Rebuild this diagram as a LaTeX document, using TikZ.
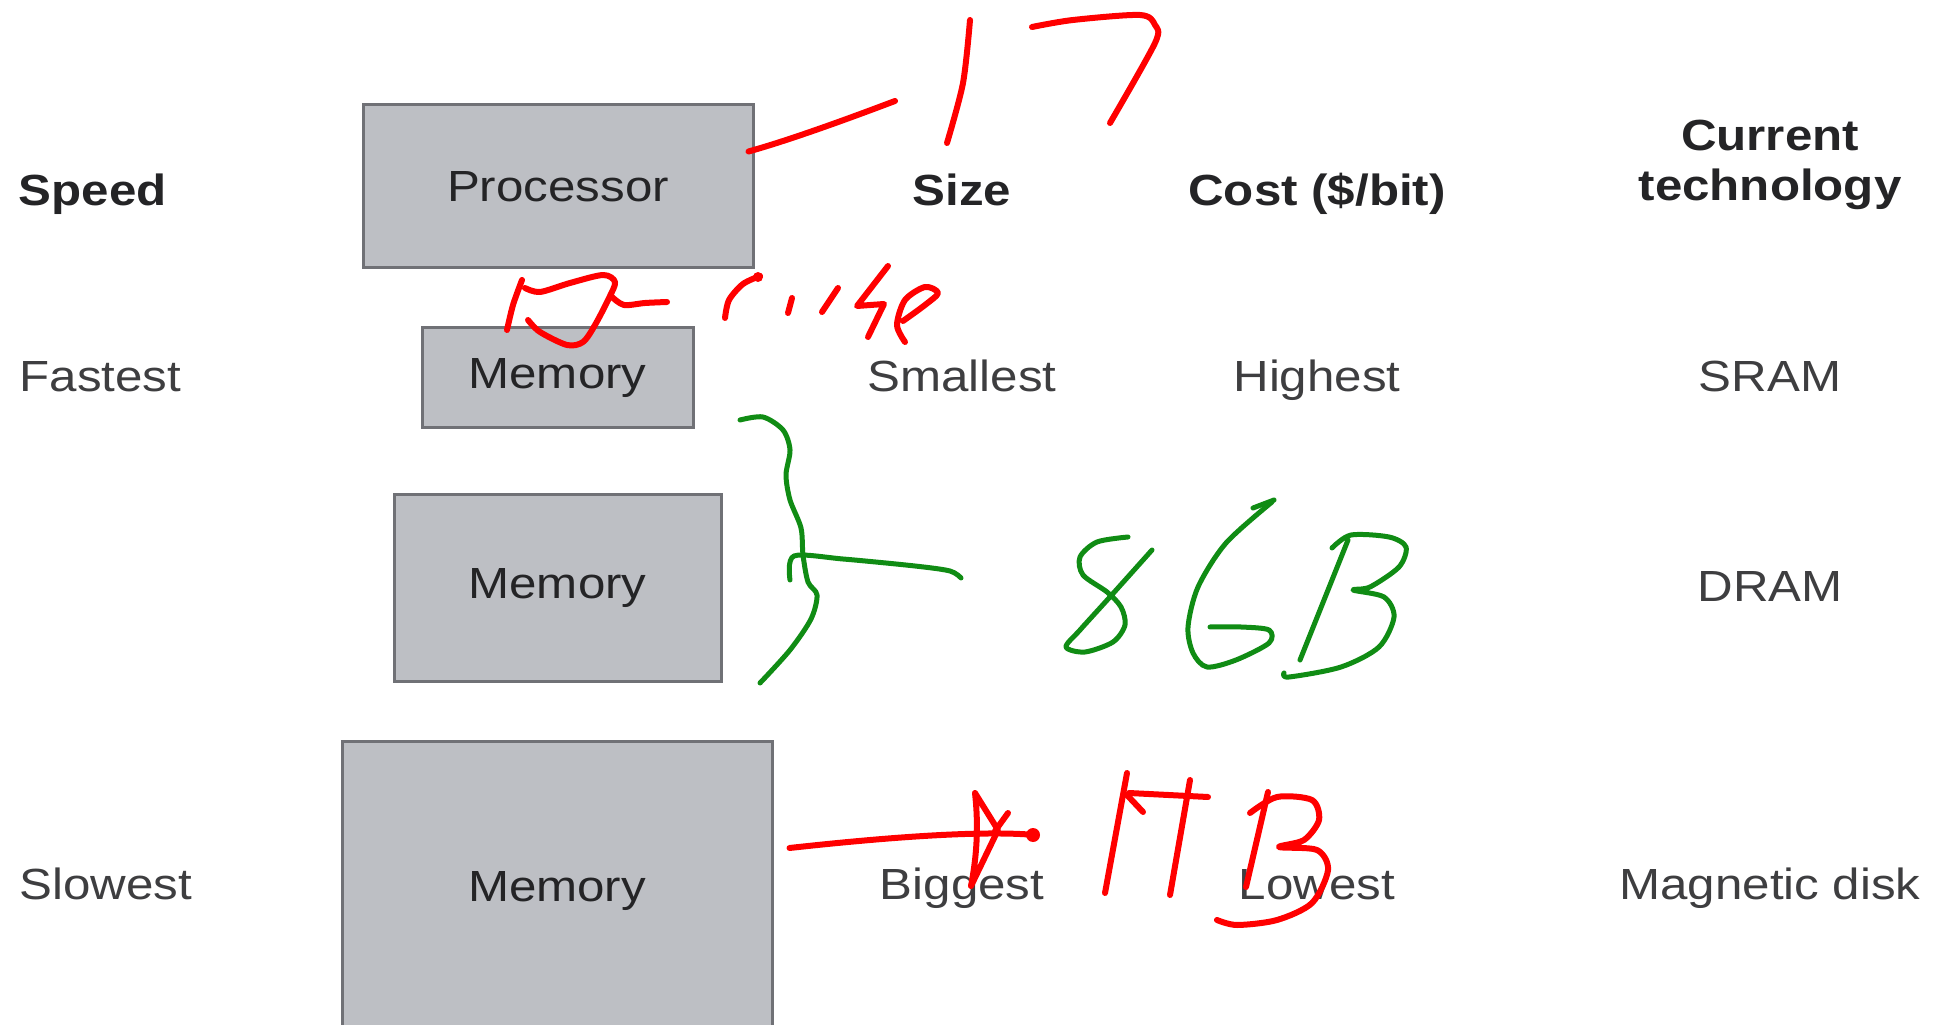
\documentclass[tikz,border=0pt]{standalone}
\usepackage{fontspec}
\setmainfont{Liberation Sans}[FakeStretch=1.13]

\newlength{\du}
\setlength{\du}{0.01cm}
\newcommand{\lblsize}{\fontsize{12.4}{14}\selectfont}

\definecolor{boxfill}{RGB}{189,191,196}
\definecolor{boxline}{RGB}{112,113,118}
\definecolor{headtext}{RGB}{36,36,38}
\definecolor{bodytext}{RGB}{62,62,64}
\definecolor{redink}{RGB}{255,0,0}
\definecolor{greenink}{RGB}{16,140,20}

\tikzset{
  membox/.style={draw=boxline, fill=boxfill, line width=3\du, inner sep=0pt,
    text=headtext, font=\lblsize},
  headlabel/.style={font=\lblsize\bfseries, text=headtext, inner sep=0pt, anchor=base},
  rowlabel/.style={font=\lblsize, text=bodytext, inner sep=0pt, anchor=base},
  redpen/.style={draw=redink, line width=6\du, line cap=round, line join=round},
  greenpen/.style={draw=greenink, line width=5\du, line cap=round, line join=round},
}

\begin{document}
\begin{tikzpicture}[x=1\du, y=-1\du]
\useasboundingbox (0,0) rectangle (1952,1025);
\clip (0,0) rectangle (1952,1025);

% hierarchy boxes
\node[membox, minimum width=390\du, minimum height=163\du] (proc) at (558,186.5) {Processor};
\node[membox, minimum width=271\du, minimum height=100\du] (cachemem) at (557.5,378) {Memory};
\node[membox, minimum width=327\du, minimum height=186\du] (mainmem) at (557.5,588) {Memory};
\node[membox, minimum width=430\du, minimum height=300\du] (diskmem) at (557,891) {Memory};

% column heads
\node[headlabel, anchor=base west] (speed) at (18,206) {Speed};
\node[headlabel] (size) at (962,206) {Size};
\node[headlabel] (cost) at (1317,206) {Cost (\$/bit)};
\node[headlabel, anchor=center, align=center] (tech) at (1770,165) {Current\\technology};

% rows
\node[rowlabel, anchor=base west] (fast) at (19,392) {Fastest};
\node[rowlabel] (small) at (962,392) {Smallest};
\node[rowlabel] (high) at (1317,392) {Highest};
\node[rowlabel] (sram) at (1770,392) {SRAM};
\node[rowlabel] (dram) at (1770,601) {DRAM};
\node[rowlabel, anchor=base west] (slow) at (19,899) {Slowest};
\node[rowlabel] (big) at (962,899) {Biggest};
\node[rowlabel] (low) at (1317,899) {Lowest};
\node[rowlabel] (disk) at (1770,899) {Magnetic disk};

% red ink: processor
\draw[redpen] ([xshift=-6\du, yshift=35\du]proc.east) .. controls (790,140) and (850,118) .. (895,101);
\draw[redpen] plot[smooth] coordinates {(970,20) (963,83) (947,143)};
\draw[redpen] plot[smooth] coordinates {(1032,27) (1073,20) (1140,15) (1155,25) (1155,43) (1110,123)};

% red ink: cache
\draw[redpen] plot[smooth] coordinates {(522,280) (513,305) (507,330)};
\draw[redpen] plot[smooth] coordinates {(525,288) (540,292) (570,283) (603,275) (615,282) (609,298) (595,325) (583,342) (567,345) (540,332) (528,320)};
\draw[redpen] plot[smooth] coordinates {(612,297) (624,305) (645,303) (667,302)};
\draw[redpen] plot[smooth] coordinates {(760,276) (743,284) (729,300) (725,318)};
\fill[redink] (758,277) circle (5);
\draw[redpen] (792,298) -- (788,313);
\draw[redpen] (838,288) -- (822,312);
\draw[redpen] (888,266) -- (857,306) -- (884,304) -- (868,337);
\draw[redpen] plot[smooth] coordinates {(903,321) (925,305) (938,293) (925,287) (905,300) (897,325) (905,342)};

% green ink: main memory
\draw[greenpen] plot[smooth] coordinates {(740,420) (763,417) (783,430) (790,450) (786,475) (790,500) (801,528) (803,555) (808,582) (817,595) (811,619) (790,650) (760,683)};
\draw[greenpen] plot[smooth] coordinates {(790,580) (794,556) (843,559) (915,566) (950,571) (961,578)};
\draw[greenpen] plot[smooth] coordinates {(1128,537) (1097,542) (1080,557) (1083,575) (1107,592) (1121,607) (1125,625) (1113,642) (1085,652) (1066,647) (1080,630) (1109,598) (1152,550)};
\draw[greenpen] plot[smooth] coordinates {(1272,502) (1226,543) (1198,587) (1188,627) (1193,653) (1207,667) (1236,660) (1269,643) (1269,630) (1241,627) (1210,627)};
\draw[greenpen] (1253,508) -- (1274,500);
\draw[greenpen] (1348,540) -- (1300,660);
\draw[greenpen] plot[smooth] coordinates {(1332,548) (1351,535) (1389,537) (1406,547) (1399,567) (1370,587) (1353,590) (1384,597) (1394,617) (1379,647) (1341,667) (1289,677) (1284,673)};

% red ink: disk
\draw[redpen] ([xshift=16\du, yshift=43\du]diskmem.east) .. controls (880,838) and (980,830) .. (1035,835);
\fill[redink] (1033,835) circle (7);
\draw[redpen] (975,793) -- (998,830) -- (971,886) .. controls (978,850) and (978,820) .. cycle;
\draw[redpen] (1008,813) -- (995,831);
\draw[redpen] (1127,773) -- (1105,893);
\draw[redpen] (1127,795) -- (1143,812);
\draw[redpen] (1129,793) -- (1208,797);
\draw[redpen] (1190,780) -- (1170,895);
\draw[redpen] (1268,792) -- (1246,887);
\draw[redpen] plot[smooth] coordinates {(1250,813) (1277,797) (1312,800) (1319,820) (1304,840) (1279,847) (1317,850) (1328,870) (1312,903) (1277,920) (1237,925) (1217,920)};
\end{tikzpicture}
\end{document}
